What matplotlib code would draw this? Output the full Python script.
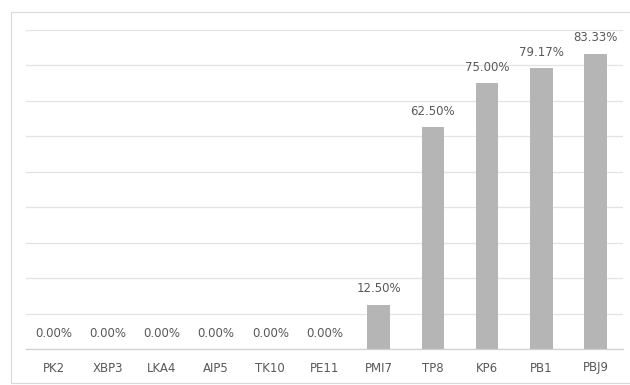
import matplotlib
matplotlib.use("Agg")
import matplotlib.pyplot as plt
from matplotlib.patches import Rectangle
import numpy as np

# data
categories = ["PK2", "XBP3", "LKA4", "AIP5", "TK10", "PE11", "PMI7", "TP8", "KP6", "PB1", "PBJ9"]
values = [0.0, 0.0, 0.0, 0.0, 0.0, 0.0, 12.50, 62.50, 75.00, 79.17, 83.33]

text_color = "#595959"

fig = plt.figure(figsize=(6.3, 3.85), dpi=100)
fig.patch.set_facecolor("white")

# outer chart border
fig.patches.append(Rectangle((11 / 630, 2 / 385), 1.0, 371 / 385, transform=fig.transFigure,
                             fill=False, edgecolor="#d9d9d9", linewidth=0.8))

ax = fig.add_axes([26.4 / 630, 36 / 385, 596.2 / 630, 319 / 385])
x = np.arange(len(categories))
ax.bar(x, values, width=0.42, color="#b5b5b5", zorder=2)

for xi, v in zip(x, values):
    ax.annotate("%.2f%%" % v, (xi, v), xytext=(0, 11.5), textcoords="offset points",
                ha="center", va="center", fontsize=8.5, color=text_color)

ax.set_xlim(-0.5, len(categories) - 0.5)
ax.set_ylim(0, 90)
ax.set_yticks(np.arange(0, 91, 10))
ax.yaxis.grid(True, color="#e3e3e3", linewidth=0.9, zorder=0)
ax.set_yticklabels([])
ax.tick_params(axis="y", length=0)

ax.set_xticks(x)
ax.set_xticklabels(categories, fontsize=8.5, color=text_color)
ax.tick_params(axis="x", length=0, pad=9)

for side in ["top", "right", "left"]:
    ax.spines[side].set_visible(False)
ax.spines["bottom"].set_color("#d0d0d0")
ax.spines["bottom"].set_linewidth(0.9)

fig.savefig("out.png", dpi=100)
